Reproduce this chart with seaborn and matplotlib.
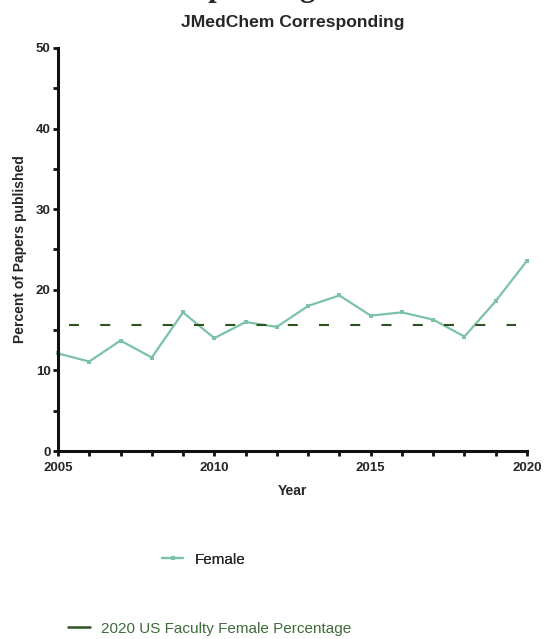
import matplotlib
matplotlib.use("Agg")
import matplotlib.pyplot as plt
import seaborn as sns
import pandas as pd
from matplotlib.lines import Line2D
from matplotlib.ticker import MultipleLocator

years = [2005, 2006, 2007, 2008, 2009, 2010, 2011, 2012,
         2013, 2014, 2015, 2016, 2017, 2018, 2019, 2020]
female_pct = [12.1, 11.1, 13.7, 11.6, 17.2, 14.0, 16.0, 15.4,
              18.0, 19.3, 16.8, 17.2, 16.3, 14.2, 18.6, 23.6]
faculty_female_2020 = 15.6

series_label = "Female"
faculty_label = "2020 US Faculty Female Percentage"

sns.set_style("ticks")
plt.rcParams["font.family"] = ["Liberation Sans", "DejaVu Sans"]
plt.rcParams["lines.scale_dashes"] = False

teal = "#7cc2a6"
dark_green = "#2f5224"

df = pd.DataFrame({"Year": years, "Percent": female_pct})

fig = plt.figure(figsize=(5.47, 6.39), dpi=100)
ax = fig.add_axes([0.106, 0.2942, 0.8574, 0.6307])

sns.lineplot(data=df, x="Year", y="Percent", ax=ax, color=teal,
             linewidth=1.6, marker="s", markersize=3.2,
             markeredgewidth=0, clip_on=False)

ax.hlines(faculty_female_2020, years[0] + 0.35, years[-1] - 0.35,
          colors=dark_green, linewidth=1.5,
          linestyles=[(0, (7.2, 15.3))])

ax.set_xlim(2005, 2020)
ax.set_ylim(0, 50)
ax.xaxis.set_major_locator(MultipleLocator(5))
ax.xaxis.set_minor_locator(MultipleLocator(1))
ax.yaxis.set_major_locator(MultipleLocator(10))
ax.yaxis.set_minor_locator(MultipleLocator(5))

sns.despine(ax=ax)
for side in ("left", "bottom"):
    ax.spines[side].set_linewidth(2.2)
    ax.spines[side].set_color("#111111")
ax.tick_params(which="both", direction="out", length=3.8, width=2.0,
               color="#111111", labelsize=9.5)
ax.tick_params(axis="x", pad=4)
ax.tick_params(axis="y", pad=1.5)
for lab in ax.get_xticklabels() + ax.get_yticklabels():
    lab.set_fontweight("bold")

ax.set_xlabel("Year", fontsize=10, fontweight="bold", labelpad=7)
ax.set_ylabel("Percent of Papers published", fontsize=10,
              fontweight="bold", labelpad=6)
ax.set_title("JMedChem Corresponding", fontsize=12.6, fontweight="bold",
             pad=15)

fig.text(0.5, 1.0055, "Corresponding Authors", ha="center",
         va="baseline", fontsize=22, fontweight="bold",
         family="Liberation Serif")

h1 = Line2D([], [], color=teal, linewidth=1.6, marker="s",
            markersize=3, markeredgewidth=0)
h2 = Line2D([], [], color=dark_green, linewidth=1.8)
leg1 = fig.legend([h1], [series_label], loc="center left",
                  bbox_to_anchor=(0.271, 0.124), frameon=False,
                  fontsize=11, handlelength=1.4, handletextpad=0.75)
fig.add_artist(leg1)
leg2 = fig.legend([h2], [faculty_label], loc="center left",
                  bbox_to_anchor=(0.1, 0.016), frameon=False,
                  fontsize=11, handlelength=1.4, handletextpad=0.75)
for t in leg2.get_texts():
    t.set_color("#3e6b3a")

fig.savefig("out.png", dpi=100)
